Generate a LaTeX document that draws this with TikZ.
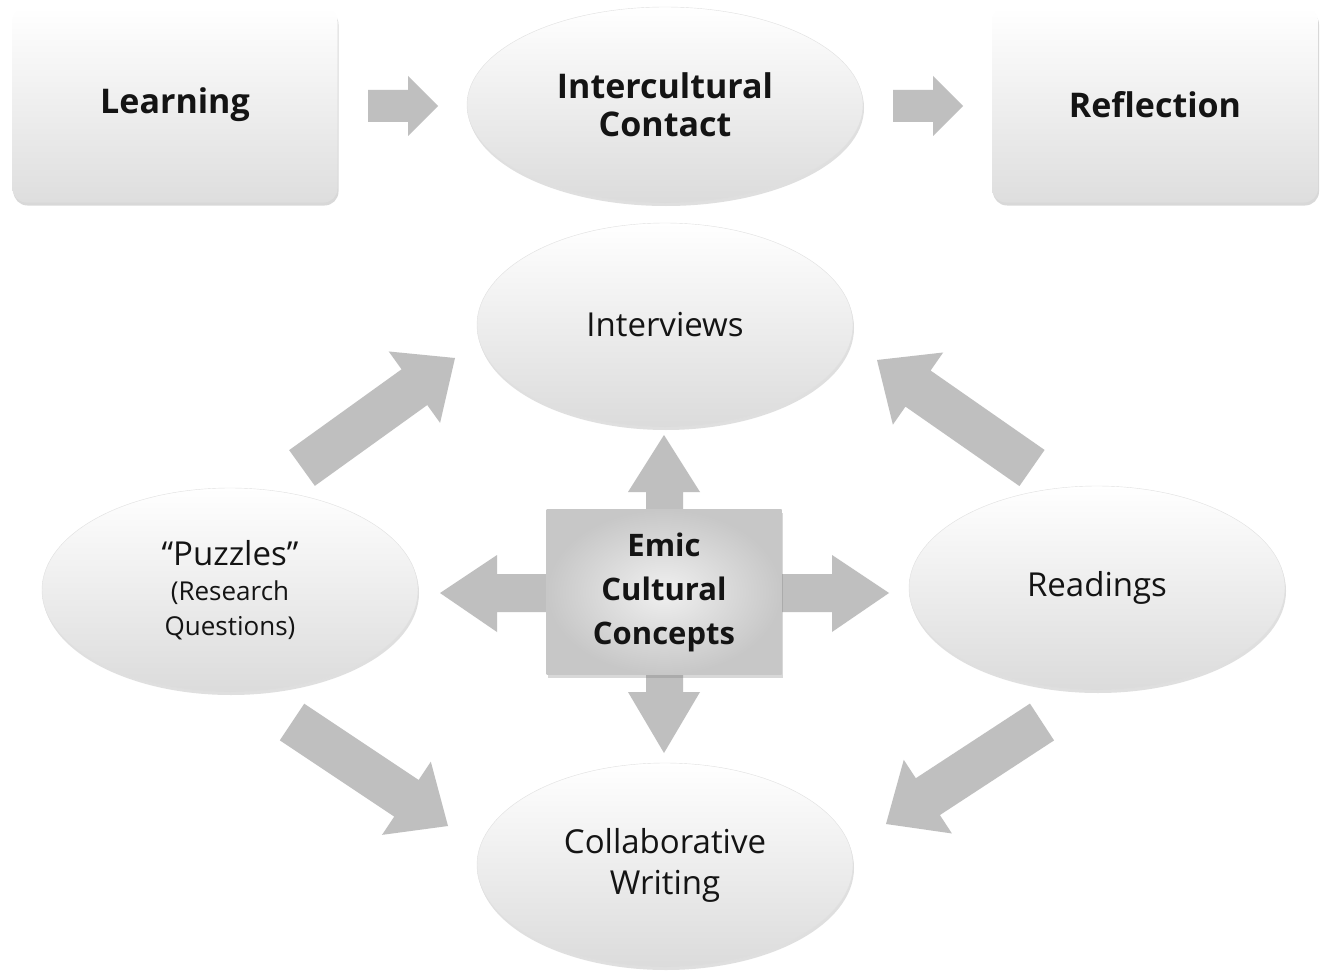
\documentclass[tikz,border=0pt]{standalone}
\usepackage{fontspec}
\setmainfont{Open Sans}
\usetikzlibrary{shapes.geometric,shadows,calc}
\definecolor{arr}{gray}{0.75}
\definecolor{txt}{gray}{0.08}
\newcommand\diagarr[2]{%
  \coordinate (B) at ($(#2)!50pt!(#1)$);
  \fill[arr] ($(#1)!22pt!90:(#2)$) -- ($(B)!22pt!-90:(#1)$) -- ($(B)!44pt!-90:(#1)$) -- (#2)
    -- ($(B)!44pt!90:(#1)$) -- ($(B)!22pt!90:(#1)$) -- ($(#1)!22pt!-90:(#2)$) -- cycle;}
\begin{document}
\begin{tikzpicture}[x=1pt,y=-1pt,
  topbox/.style={rounded corners=14pt,top color=white,bottom color=black!13,draw=none,
    drop shadow={shadow xshift=1pt,shadow yshift=-3pt,opacity=0.3},text=txt,align=center},
  ell/.style={ellipse,top color=white,bottom color=black!14,draw=black!12,
    drop shadow={shadow xshift=1pt,shadow yshift=-3pt,opacity=0.25},text=txt,align=center,inner sep=0pt},
  tf/.style={font=\fontsize{34}{42}\selectfont\bfseries},
  nf/.style={font=\fontsize{33}{41}\selectfont}]
\useasboundingbox (0,0) rectangle (1328,979);
\fill[white] (0,0) rectangle (1328,979);
% top row
\node[topbox,tf,minimum width=325pt,minimum height=195pt] (learn) at (175,105) {Learning};
\node[topbox,tf,minimum width=326pt,minimum height=195pt] (refl) at (1155,105) {Reflection};
\node[ell,tf,minimum width=396pt,minimum height=196pt] (ic) at (665,105) {Intercultural\\[-4pt]Contact};
\fill[arr] (368,90) -- (408,90) -- (408,76) -- (438,106) -- (408,136) -- (408,122) -- (368,122) -- cycle;
\fill[arr] (893,90) -- (933,90) -- (933,76) -- (963,106) -- (933,136) -- (933,122) -- (893,122) -- cycle;
% ellipses
\node[ell,nf,minimum width=376pt,minimum height=204pt] (int) at (665,325) {Interviews};
\node[ell,nf,minimum width=376pt,minimum height=204pt] (puz) at (230,590) {``Puzzles''\\[-6pt]{\fontsize{26}{38}\selectfont(Research}\\[-6pt]{\fontsize{26}{38}\selectfont Questions)}};
\node[ell,nf,minimum width=376pt,minimum height=204pt] (read) at (1097,588) {Readings};
\node[ell,nf,minimum width=376pt,minimum height=204pt] (cw) at (665,865) {Collaborative\\Writing};
% diagonal arrows
\coordinate (s1) at (302,468); \coordinate (e1) at (455,358);
\coordinate (s2) at (1032,468); \coordinate (e2) at (877,360);
\coordinate (s3) at (292,722); \coordinate (e3) at (448,826);
\coordinate (s4) at (1042,722); \coordinate (e4) at (886,824);
\diagarr{s1}{e1}
\diagarr{s2}{e2}
\diagarr{s3}{e3}
\diagarr{s4}{e4}
% center cross
\fill[arr] (646,592) -- (646,492) -- (628,492) -- (664,435) -- (700,492) -- (683,492) -- (683,592) -- cycle;
\fill[arr] (646,592) -- (646,692) -- (628,692) -- (664,753) -- (700,692) -- (683,692) -- (683,592) -- cycle;
\fill[arr] (664,574) -- (497,574) -- (497,555) -- (440,593) -- (497,632) -- (497,612) -- (664,612) -- cycle;
\fill[arr] (664,574) -- (832,574) -- (832,555) -- (889,593) -- (832,632) -- (832,612) -- (664,612) -- cycle;
\node[inner sep=0pt,minimum width=235pt,minimum height=165pt,inner color=black!6,outer color=black!22,
  drop shadow={shadow xshift=1pt,shadow yshift=-3pt,opacity=0.3},text=txt,align=center,
  font=\fontsize{31}{44}\selectfont\bfseries] (emic) at (664,592) {Emic\\Cultural\\Concepts};
\end{tikzpicture}
\end{document}
